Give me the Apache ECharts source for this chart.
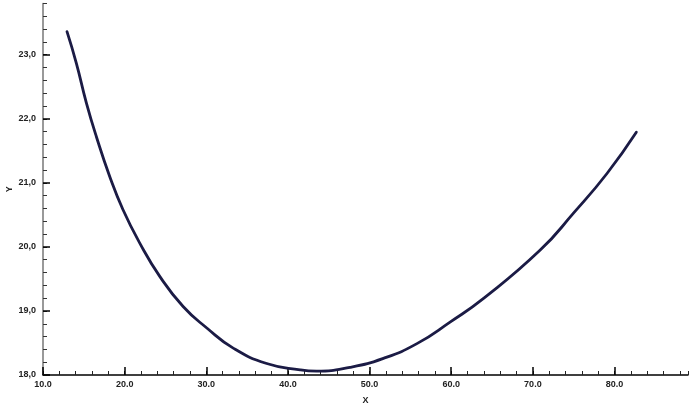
<!DOCTYPE html>
<html>
<head>
<meta charset="utf-8">
<script src="https://cdn.jsdelivr.net/npm/echarts@6/dist/echarts.min.js"></script>
<style>
  html, body { margin: 0; padding: 0; background: #fff; }
  #main { width: 689px; height: 414px; }
</style>
</head>
<body>
<div id="main"></div>
<script>
// values
var xValues = [12.94, 14.08, 15.31, 16.54, 18.17, 19.80, 21.85, 24.30, 27.16, 30.1, 33.3, 37.4,
               41.5, 43.5, 47.6, 51.7, 55.8, 59.9, 64.0, 70.9, 75.0, 79.1, 82.67];
var yValues = [23.36, 22.87, 22.25, 21.72, 21.10, 20.58, 20.06, 19.54, 19.07, 18.73, 18.42, 18.18,
               18.08, 18.06, 18.12, 18.26, 18.49, 18.83, 19.20, 19.95, 20.53, 21.15, 21.79];
var xMajorTicks = [10, 20, 30, 40, 50, 60, 70, 80];
var yMajorTicks = [18, 19, 20, 21, 22, 23];

var pts = [];
for (var i = 0; i < xValues.length; i++) {
  pts.push([xValues[i], yValues[i]]);
}

function isWhole(v, step) {
  var r = v / step;
  return Math.abs(r - Math.round(r)) < 1e-6;
}

var labelStyle = {
  fontFamily: 'Liberation Sans, Arial, sans-serif',
  fontSize: 9,
  fontWeight: 'bold',
  color: '#222'
};

var myChart = echarts.init(document.getElementById('main'));

var option = {
  animation: false,
  backgroundColor: '#fff',
  grid: { left: 43, right: 1, top: 3.5, bottom: 39, containLabel: false, outerBoundsMode: 'none' },
  xAxis: [
    {
      type: 'value', min: 10, max: 89, interval: 2,
      name: 'X', nameLocation: 'middle', nameGap: 21, nameMoveOverlap: false,
      nameTextStyle: { fontFamily: 'Liberation Sans, Arial, sans-serif', fontSize: 9, fontWeight: 'bold', color: '#222' },
      axisLine: { show: true, lineStyle: { color: '#000', width: 1.5 } },
      axisTick: { show: true, inside: true, length: 4, lineStyle: { color: '#222', width: 1 } },
      axisLabel: Object.assign({
        margin: 5,
        formatter: function (v) { return isWhole(v, 10) && v < 89 ? v.toFixed(1) : ''; }
      }, labelStyle),
      splitLine: { show: false }
    },
    {
      type: 'value', min: 10, max: 89, interval: 10, position: 'bottom',
      axisLine: { show: false },
      axisTick: { show: true, inside: true, length: 8, customValues: xMajorTicks, lineStyle: { color: '#000', width: 1.5 } },
      axisLabel: { show: false },
      splitLine: { show: false }
    }
  ],
  yAxis: [
    {
      type: 'value', min: 18, max: 23.8, interval: 0.2,
      name: 'Y', nameLocation: 'middle', nameGap: 29, nameRotate: 90, nameMoveOverlap: false,
      nameTextStyle: { fontFamily: 'Liberation Sans, Arial, sans-serif', fontSize: 9, fontWeight: 'bold', color: '#222' },
      axisLine: { show: true, lineStyle: { color: '#777', width: 1.5 } },
      axisTick: { show: true, inside: true, length: 4, lineStyle: { color: '#333', width: 1 } },
      axisLabel: Object.assign({
        margin: 7,
        formatter: function (v) { return isWhole(v, 1) ? Math.round(v).toFixed(1).replace('.', ',') : ''; }
      }, labelStyle),
      splitLine: { show: false }
    },
    {
      type: 'value', min: 18, max: 23.8, interval: 1, position: 'left',
      axisLine: { show: false },
      axisTick: { show: true, inside: true, length: 7, customValues: yMajorTicks, lineStyle: { color: '#000', width: 1.5 } },
      axisLabel: { show: false },
      splitLine: { show: false }
    }
  ],
  series: [
    {
      type: 'line',
      data: pts,
      smooth: 0.5,
      showSymbol: false,
      lineStyle: { color: '#1b1b45', width: 2.8, cap: 'round' }
    }
  ]
};

myChart.setOption(option);
</script>
</body>
</html>
